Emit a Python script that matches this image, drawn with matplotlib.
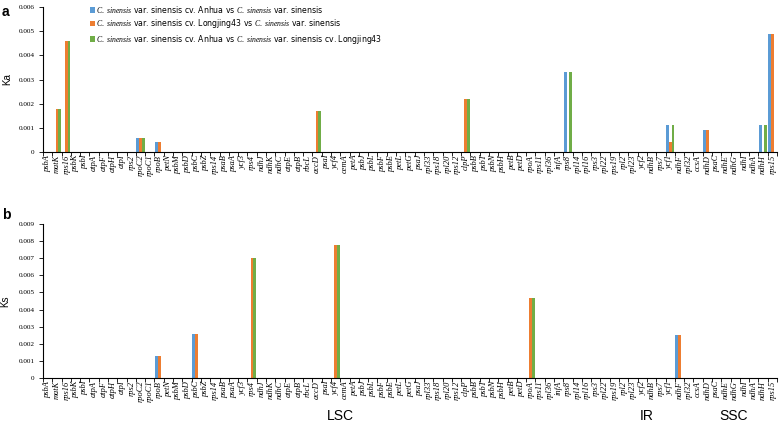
import numpy as np
import matplotlib
matplotlib.use("Agg")
import matplotlib.pyplot as plt
import matplotlib.transforms as mtrans

plt.rcParams['mathtext.fontset'] = 'custom'
plt.rcParams['mathtext.it'] = 'Liberation Serif:italic'
plt.rcParams['mathtext.rm'] = 'Liberation Serif'

genes = ["psbA", "matK", "rps16", "psbK", "psbI", "atpA", "atpF", "atpH", "atpI", "rps2",
         "rpoC2", "rpoC1", "rpoB", "petN", "psbM", "psbD", "psbC", "psbZ", "rps14", "psaB",
         "psaA", "ycf3", "rps4", "ndhJ", "ndhK", "ndhC", "atpE", "atpB", "rbcL", "accD",
         "psaI", "ycf4", "cemA", "petA", "psbJ", "psbL", "psbF", "psbE", "petL", "petG",
         "psaJ", "rpl33", "rps18", "rpl20", "rps12", "clpP", "psbB", "psbT", "psbN", "psbH",
         "petB", "petD", "rpoA", "rps11", "rpl36", "infA", "rps8", "rpl14", "rpl16", "rps3",
         "rpl22", "rps19", "rpl2", "rpl23", "ycf2", "ndhB", "rps7", "ycf1", "ndhF", "rpl32",
         "ccsA", "ndhD", "psaC", "ndhE", "ndhG", "ndhI", "ndhA", "ndhH", "rps15"]

series_labels = [
    r"$\it{C.\ sinensis}$ var. sinensis cv. Anhua vs $\it{C.\ sinensis}$ var. sinensis",
    r"$\it{C.\ sinensis}$ var. sinensis cv. Longjing43 vs $\it{C.\ sinensis}$ var. sinensis",
    r"$\it{C.\ sinensis}$ var. sinensis cv. Anhua vs $\it{C.\ sinensis}$ var. sinensis cv. Longjing43",
]
colors = ["#5B9BD5", "#ED7D31", "#70AD47"]

# non-zero values only, everything else is 0
ka_anhua_vs_sin = {"rpoC2": 0.0006, "rpoB": 0.0004, "rps8": 0.0033, "ycf1": 0.0011,
                   "ndhD": 0.0009, "ndhH": 0.0011, "rps15": 0.0049}
ka_lj43_vs_sin = {"matK": 0.0018, "rps16": 0.0046, "rpoC2": 0.0006, "rpoB": 0.0004,
                  "accD": 0.0017, "clpP": 0.0022, "ycf1": 0.0004, "ndhD": 0.0009,
                  "rps15": 0.0049}
ka_anhua_vs_lj43 = {"matK": 0.0018, "rps16": 0.0046, "rpoC2": 0.0006, "accD": 0.0017,
                    "clpP": 0.0022, "rps8": 0.0033, "ycf1": 0.0011, "ndhH": 0.0011}

ks_anhua_vs_sin = {"rpoB": 0.0013, "psbC": 0.0026, "ndhF": 0.0025}
ks_lj43_vs_sin = {"rpoB": 0.0013, "psbC": 0.0026, "rps4": 0.0070, "ycf4": 0.0078,
                  "rpoA": 0.0047, "ndhF": 0.0025}
ks_anhua_vs_lj43 = {"rps4": 0.0070, "ycf4": 0.0078, "rpoA": 0.0047}

regions = ["LSC", "IR", "SSC"]
region_pos = [31.5, 64.5, 73.8]   # centre, in gene positions

W, H = 784, 429
fig = plt.figure(figsize=(W / 100, H / 100), dpi=100)


def box(l, t, r, b):
    return [l / W, 1 - b / H, (r - l) / W, (b - t) / H]


ax_a = fig.add_axes(box(43, 7, 777, 152))
ax_b = fig.add_axes(box(43, 224, 777, 378))

x = np.arange(len(genes))
w = 0.3


def draw(ax, dicts, ymax, ylabel, yl_px):
    for i, (d, c) in enumerate(zip(dicts, colors)):
        vals = [d.get(g, 0) for g in genes]
        ax.bar(x + (i - 1) * w, vals, w, color=c, label=series_labels[i])
    ax.set_xlim(-0.5, len(genes) - 0.5)
    ax.set_ylim(0, ymax)
    ticks = np.arange(0, ymax + 1e-9, 0.001)
    ax.set_yticks(ticks)
    ax.set_yticklabels(["0"] + ["%.3f" % v for v in ticks[1:]],
                       family="Liberation Serif", fontsize=5.2)
    ax.set_xticks(x)
    ax.set_xticklabels(genes, rotation=90, family="Liberation Serif", style="italic",
                       fontsize=6)
    ax.set_xticks(np.arange(-0.5, len(genes), 1), minor=True)
    ax.tick_params(axis="x", which="major", length=0, pad=2)
    ax.tick_params(axis="x", which="minor", length=3, width=0.6)
    ax.tick_params(axis="y", length=3, width=0.6, pad=3)
    for s in ["top", "right"]:
        ax.spines[s].set_visible(False)
    for s in ["left", "bottom"]:
        ax.spines[s].set_linewidth(0.8)
    ax.set_ylabel(ylabel, family="Liberation Sans", fontsize=7)
    ax.yaxis.set_label_coords(yl_px / W, 0.5, transform=fig.transFigure)
    ax.yaxis.label.set_transform(mtrans.blended_transform_factory(
        fig.transFigure, ax.transAxes))


draw(ax_a, [ka_anhua_vs_sin, ka_lj43_vs_sin, ka_anhua_vs_lj43], 0.006, "Ka", 12)
draw(ax_b, [ks_anhua_vs_sin, ks_lj43_vs_sin, ks_anhua_vs_lj43], 0.009, "Ks", 10)

leg = ax_a.legend(loc="upper left", bbox_to_anchor=((86 - 43) / 734, 1 + 7 / 145),
                  frameon=False, fontsize=5.6, handlelength=0.7, handleheight=0.7,
                  handletextpad=0.1, labelspacing=0.3, borderpad=0)

fig.text(2 / W, 1 - 12 / H, "a", fontsize=10, fontweight="bold",
         family="Liberation Sans", va="center")
fig.text(2 / W, 1 - 215 / H, "b", fontsize=10, fontweight="bold",
         family="Liberation Sans", va="center")

tr = mtrans.blended_transform_factory(ax_b.transData, fig.transFigure)
for r, rx in zip(regions, region_pos):
    ax_b.text(rx, 1 - 416 / H, r, ha="center", va="center", fontsize=10,
              family="Liberation Sans", transform=tr, clip_on=False)

fig.savefig("out.png", dpi=100)
